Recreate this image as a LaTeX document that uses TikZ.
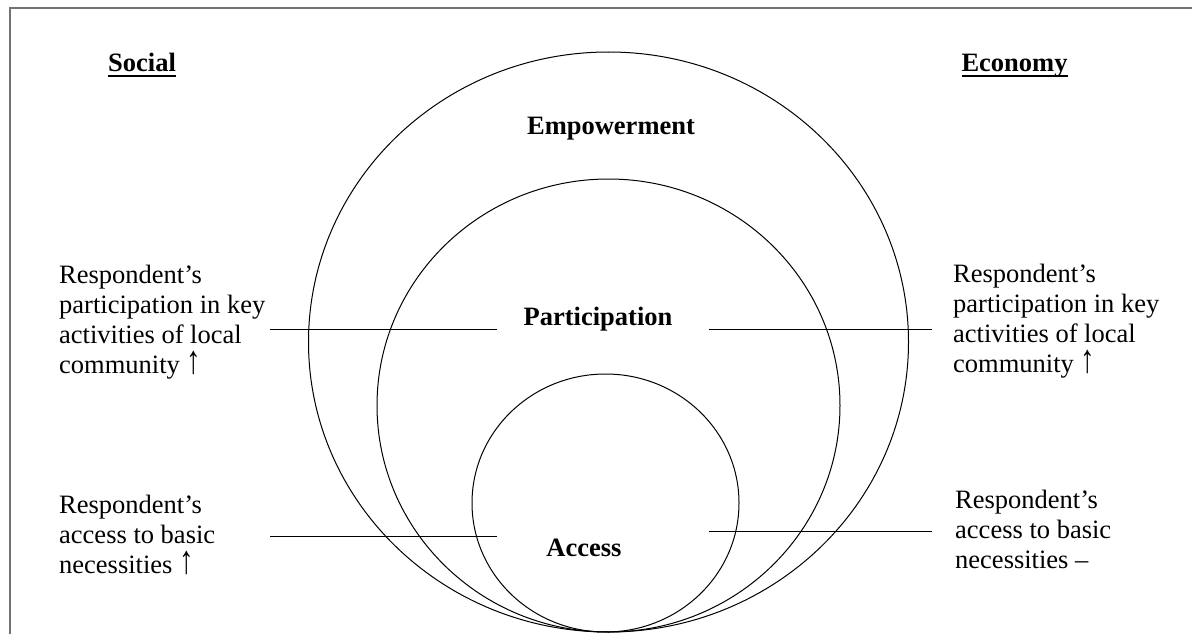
\documentclass[tikz,border=0pt]{standalone}
\usepackage{fontspec}
\usepackage{graphicx}
\setmainfont{Liberation Serif}
\usetikzlibrary{shapes.geometric}
\newcommand\myul[1]{\setbox0\hbox{#1}\rlap{\raisebox{-5pt}{\rule{\wd0}{2.2pt}}}\box0}
\newcommand\uparr{\smash{\raisebox{-0.5pt}{\scalebox{1.1}[1.5]{↑}}}}
\tikzset{
  ring/.style={draw, ellipse, line width=1pt, inner sep=0pt},
  txt/.style={font=\fontsize{26.5}{30}\selectfont, align=left, inner sep=0pt, anchor=base west},
  lbl/.style={font=\fontsize{26.5}{30}\selectfont\bfseries, inner sep=0pt, anchor=base},
  link/.style={line width=1pt},
  frame/.style={draw=black!55, line width=1.5pt}
}
\begin{document}
\begin{tikzpicture}[x=1pt,y=-1pt]
\useasboundingbox (0,0) rectangle (1192,634);
% frame (top and left)
\coordinate (f1) at (1192,8);
\coordinate (f2) at (10,8);
\coordinate (f3) at (10,634);
\draw[frame] (f1) -- (f2) -- (f3);
% ellipses
\node[ring, minimum width=600pt, minimum height=580pt] (outer) at (608.5,342) {};
\node[ring, minimum width=463pt, minimum height=453pt] (middle) at (608.5,405.5) {};
\node[ring, minimum width=267pt, minimum height=258pt] (inner) at (605.5,503) {};
% headings
\node[lbl] (social) at (142,72) {\myul{Social}};
\node[lbl] (economy) at (1014.5,72) {\myul{Economy}};
% centre labels
\node[lbl] (emp) at (611,135) {Empowerment};
\node[lbl] (par) at (598,325) {Participation};
\node[lbl] (acc) at (584,556) {Access};
% side texts (anchor = baseline of last line)
\node[txt] (lp) at (59,373) {Respondent’s\\participation in key\\activities of local\\community \uparr};
\node[txt] (rp) at (953,372) {Respondent’s\\participation in key\\activities of local\\community \uparr};
\node[txt] (la) at (59,573) {Respondent’s\\access to basic\\necessities \uparr};
\node[txt] (ra) at (955,568) {Respondent’s\\access to basic\\necessities –};
% connectors
\coordinate (lp1) at (270,329);
\coordinate (lp2) at (497,329);
\coordinate (rp1) at (709,329);
\coordinate (rp2) at (932,329);
\coordinate (la1) at (270,536);
\coordinate (la2) at (497,536);
\coordinate (ra1) at (709,531);
\coordinate (ra2) at (932,531);
\draw[link] (lp1) -- (lp2);
\draw[link] (rp1) -- (rp2);
\draw[link] (la1) -- (la2);
\draw[link] (ra1) -- (ra2);
\end{tikzpicture}
\end{document}
